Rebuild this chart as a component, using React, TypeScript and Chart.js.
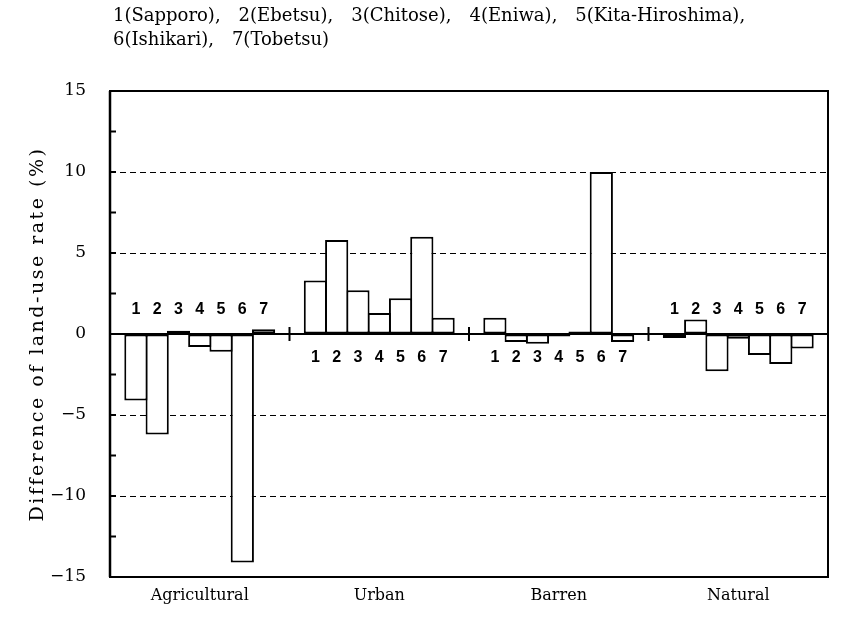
import React, { useEffect, useRef } from 'react';
import { Chart, registerables } from 'chart.js';

Chart.register(...registerables);

// ---------- data ----------
const categories = ['Agricultural', 'Urban', 'Barren', 'Natural'];
const cityIds = ['1', '2', '3', '4', '5', '6', '7'];
const cityNames = ['Sapporo', 'Ebetsu', 'Chitose', 'Eniwa', 'Kita-Hiroshima', 'Ishikari', 'Tobetsu'];

const sapporo = [-4.1, 3.3, 1.0, -0.25];
const ebetsu = [-6.2, 5.8, -0.5, 0.9];
const chitose = [0.2, 2.7, -0.6, -2.3];
const eniwa = [-0.8, 1.3, -0.15, -0.3];
const kitaHiroshima = [-1.1, 2.2, 0.15, -1.3];
const ishikari = [-14.1, 6.0, 10.0, -1.85];
const tobetsu = [0.3, 1.0, -0.5, -0.9];
const seriesValues = [sapporo, ebetsu, chitose, eniwa, kitaHiroshima, ishikari, tobetsu];

const yMajorTicks = [15, 10, 5, 0, -5, -10, -15];
const yMinorTicks = [12.5, 7.5, 2.5, -2.5, -7.5, -12.5];
const yAxisTitle = 'Difference of land-use rate (%)';
// which side of the zero line the city numbers sit on, per category
const idLabelSide = ['above', 'below', 'below', 'above'];
// legend rows (indices into cityIds / cityNames)
const legendRows = [[0, 1, 2, 3, 4], [5, 6]];

const SERIF = '"DejaVu Serif", "Liberation Serif", serif';
const SANS = '"Liberation Sans", "DejaVu Sans", sans-serif';

const decorPlugin = {
  id: 'decor',
  afterDatasetsDraw(chart: any) {
    const { ctx, chartArea } = chart;
    const { left, right, top, bottom } = chartArea;
    const yScale = chart.scales.y;
    const xScale = chart.scales.x;
    const y0 = yScale.getPixelForValue(0);
    ctx.save();
    ctx.strokeStyle = '#000';
    ctx.fillStyle = '#000';
    ctx.setLineDash([]);

    // zero line
    ctx.lineWidth = 2;
    ctx.beginPath();
    ctx.moveTo(left, y0);
    ctx.lineTo(right, y0);
    ctx.stroke();

    // frame
    ctx.lineWidth = 2;
    ctx.strokeRect(left, top, right - left, bottom - top);
    ctx.lineWidth = 2.5;
    ctx.beginPath();
    ctx.moveTo(left, top);
    ctx.lineTo(left, bottom);
    ctx.stroke();

    // inward minor/major ticks on the left axis
    ctx.lineWidth = 2;
    [...yMinorTicks, ...yMajorTicks].forEach((v) => {
      const py = yScale.getPixelForValue(v);
      ctx.beginPath();
      ctx.moveTo(left, py);
      ctx.lineTo(left + 6, py);
      ctx.stroke();
    });

    // group separator ticks on zero line
    for (let i = 0; i < categories.length - 1; i++) {
      const px = (xScale.getPixelForValue(i) + xScale.getPixelForValue(i + 1)) / 2;
      ctx.beginPath();
      ctx.moveTo(px, y0 - 7);
      ctx.lineTo(px, y0 + 7);
      ctx.stroke();
    }

    // city numbers
    ctx.font = `bold 16px ${SANS}`;
    ctx.textAlign = 'center';
    ctx.textBaseline = 'middle';
    chart.data.datasets.forEach((ds: any, d: number) => {
      const meta = chart.getDatasetMeta(d);
      meta.data.forEach((bar: any, c: number) => {
        const py = idLabelSide[c] === 'above' ? y0 - 24 : y0 + 24;
        ctx.fillText(cityIds[d], bar.x, py);
      });
    });

    // header legend text
    ctx.font = `18px ${SERIF}`;
    ctx.textAlign = 'left';
    ctx.textBaseline = 'middle';
    legendRows.forEach((row, r) => {
      let x = left + 3;
      const y = 16 + r * 24;
      row.forEach((idx) => {
        const t = `${cityIds[idx]}(${cityNames[idx]})${idx < cityIds.length - 1 ? ',' : ''}`;
        ctx.fillText(t, x, y);
        x += ctx.measureText(t).width + 18;
      });
    });

    // y-axis title (rotated)
    ctx.save();
    ctx.translate(38, (top + bottom) / 2);
    ctx.rotate(-Math.PI / 2);
    ctx.font = `19px ${SERIF}`;
    try {
      (ctx as any).letterSpacing = '2.5px';
    } catch (e) {
      /* ignore */
    }
    ctx.textAlign = 'center';
    ctx.textBaseline = 'middle';
    ctx.fillText(yAxisTitle, 0, 0);
    ctx.restore();

    ctx.restore();
  },
};

export default function App() {
  const canvasRef = useRef<HTMLCanvasElement | null>(null);

  useEffect(() => {
    document.body.style.margin = '0';
    const canvas = canvasRef.current;
    if (!canvas) return;
    const chart = new Chart(canvas, {
      type: 'bar',
      data: {
        labels: categories,
        datasets: seriesValues.map((vals, i) => ({
          label: `${cityIds[i]}(${cityNames[i]})`,
          data: vals,
          backgroundColor: '#ffffff',
          borderColor: '#000000',
          borderWidth: 2,
          borderSkipped: false,
          categoryPercentage: 0.83,
          barPercentage: 1.09,
        })),
      },
      options: {
        animation: false,
        responsive: true,
        maintainAspectRatio: false,
        devicePixelRatio: 1,
        layout: { padding: { top: 91, right: 14, bottom: 0, left: 0 } },
        plugins: {
          legend: { display: false },
          tooltip: { enabled: false },
          title: { display: false },
        },
        scales: {
          x: {
            type: 'category',
            grid: { display: false, drawTicks: false },
            border: { display: false },
            ticks: {
              color: '#000',
              font: { family: SERIF, size: 16 },
              padding: 9,
            },
            afterFit: (scale: any) => {
              scale.height = 40;
            },
          },
          y: {
            min: -15,
            max: 15,
            afterBuildTicks: (scale: any) => {
              scale.ticks = yMajorTicks.map((v) => ({ value: v }));
            },
            ticks: {
              color: '#000',
              font: { family: SERIF, size: 17 },
              padding: 24,
              callback: (v: any) => String(v).replace('-', '\u2212'),
            },
            grid: {
              drawTicks: false,
              lineWidth: 1,
              color: (ctx: any) => {
                const v = ctx.tick ? ctx.tick.value : null;
                return v === 0 || v === 15 || v === -15 ? 'rgba(0,0,0,0)' : '#000';
              },
            },
            border: { display: false, dash: [6, 4] },
            title: { display: false },
            afterFit: (scale: any) => {
              scale.width = 110;
            },
          },
        },
      },
      plugins: [decorPlugin],
    });
    return () => chart.destroy();
  }, []);

  return (
    <div style={{ width: 842, height: 617, position: 'relative', background: '#fff' }}>
      <canvas ref={canvasRef} />
    </div>
  );
}
